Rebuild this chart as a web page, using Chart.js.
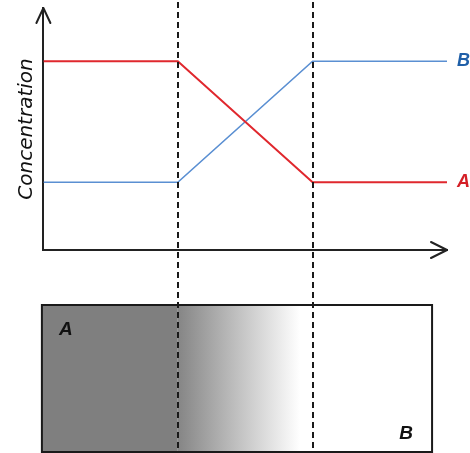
<!DOCTYPE html>
<html>
<head>
<meta charset="utf-8">
<script src="https://cdn.jsdelivr.net/npm/chart.js@4"></script>
<style>
  html, body { margin: 0; padding: 0; background: #fff; }
  #wrap { width: 470px; height: 453px; }
</style>
</head>
<body>
<div id="wrap"><canvas id="c" width="470" height="453"></canvas></div>
<script>
// ---- data ----
const positions = [0, 33.3, 66.7, 100];          // position along the sample
const concA = [7.8, 7.8, 2.8, 2.8];               // concentration of A
const concB = [2.8, 2.8, 7.8, 7.8];               // concentration of B
const seriesNames = ['A', 'B'];
const interfaces = [33.3, 66.7];                  // dashed interface lines
const panelExtent = [0, 96.3];                    // bottom sample bar (x range)
const gradientExtent = [33.3, 63.6];              // grey -> white transition
const panelLabels = ['A', 'B'];
const yTitle = 'Concentration';

const RED = '#e0282e', BLUE = '#5a8fd2';
const RED_TXT = '#d41f26', BLUE_TXT = '#1f5fa8';

const toPts = (xs, ys) => xs.map((x, i) => ({ x, y: ys[i] }));

const decor = {
  id: 'decor',
  afterDraw(chart) {
    const ctx = chart.ctx;
    const xs = chart.scales.x, ca = chart.chartArea;
    const H = chart.height;
    ctx.save();

    // ---- bottom sample bar ----
    const pL = xs.getPixelForValue(panelExtent[0]) - 1.5;
    const pR = xs.getPixelForValue(panelExtent[1]);
    const pT = 305, pB = 452;
    const g0 = xs.getPixelForValue(gradientExtent[0]);
    const g1 = xs.getPixelForValue(gradientExtent[1]);
    ctx.fillStyle = '#7f7f7f';
    ctx.fillRect(pL, pT, g0 - pL, pB - pT);
    const grad = ctx.createLinearGradient(g0, 0, g1, 0);
    grad.addColorStop(0, '#858585');
    grad.addColorStop(1, '#ffffff');
    ctx.fillStyle = grad;
    ctx.fillRect(g0, pT, g1 - g0, pB - pT);
    ctx.strokeStyle = '#1a1a1a';
    ctx.lineWidth = 2;
    ctx.strokeRect(pL, pT, pR - pL, pB - pT);

    ctx.fillStyle = '#111';
    ctx.font = 'italic bold 19px "Liberation Sans", Arial, sans-serif';
    ctx.textBaseline = 'alphabetic';
    ctx.textAlign = 'left';
    ctx.fillText(panelLabels[0], pL + 17, pT + 30);
    ctx.textAlign = 'right';
    ctx.fillText(panelLabels[1], pR - 19, pB - 13);

    // ---- dashed interface lines ----
    ctx.strokeStyle = '#1a1a1a';
    ctx.lineWidth = 2;
    ctx.setLineDash([6, 4]);
    interfaces.forEach(v => {
      const px = Math.round(xs.getPixelForValue(v));
      ctx.beginPath();
      ctx.moveTo(px, 2);
      ctx.lineTo(px, H);
      ctx.stroke();
    });
    ctx.setLineDash([]);

    // ---- axis arrowheads ----
    ctx.strokeStyle = '#222';
    ctx.lineWidth = 2;
    ctx.lineCap = 'round';
    ctx.lineJoin = 'round';
    ctx.beginPath();
    ctx.moveTo(ca.left - 7, ca.top + 15);
    ctx.lineTo(ca.left, ca.top);
    ctx.lineTo(ca.left + 7, ca.top + 15);
    ctx.stroke();
    ctx.beginPath();
    ctx.moveTo(ca.right - 16, ca.bottom - 8);
    ctx.lineTo(ca.right, ca.bottom);
    ctx.lineTo(ca.right - 16, ca.bottom + 8);
    ctx.stroke();

    // ---- series end labels ----
    ctx.font = 'italic bold 18px "Liberation Sans", Arial, sans-serif';
    ctx.textAlign = 'left';
    ctx.textBaseline = 'middle';
    chart.data.datasets.forEach((ds, i) => {
      const meta = chart.getDatasetMeta(i);
      const last = meta.data[meta.data.length - 1];
      ctx.fillStyle = ds.labelColor;
      ctx.fillText(ds.label, last.x + 10, last.y);
    });
    ctx.restore();
  }
};

new Chart(document.getElementById('c'), {
  type: 'line',
  data: {
    datasets: [
      { label: seriesNames[0], data: toPts(positions, concA), borderColor: RED, borderWidth: 2, labelColor: RED_TXT },
      { label: seriesNames[1], data: toPts(positions, concB), borderColor: BLUE, borderWidth: 1.6, labelColor: BLUE_TXT }
    ]
  },
  options: {
    responsive: false,
    animation: false,
    events: [],
    layout: { padding: { top: 8, right: 23, bottom: 203, left: 0 } },
    elements: { point: { radius: 0 }, line: { tension: 0 } },
    plugins: { legend: { display: false }, tooltip: { enabled: false } },
    scales: {
      x: {
        type: 'linear', min: 0, max: 100,
        grid: { display: false, drawTicks: false },
        ticks: { display: false },
        border: { display: true, color: '#222', width: 2 }
      },
      y: {
        min: 0, max: 10,
        grid: { display: false, drawTicks: false },
        ticks: { display: false },
        border: { display: true, color: '#222', width: 2 },
        title: {
          display: true, text: yTitle, color: '#111',
          font: { family: '"DejaVu Sans", sans-serif', size: 20, style: 'italic' },
          padding: { top: 15, bottom: 4.4 }
        }
      }
    }
  },
  plugins: [decor]
});
</script>
</body>
</html>
